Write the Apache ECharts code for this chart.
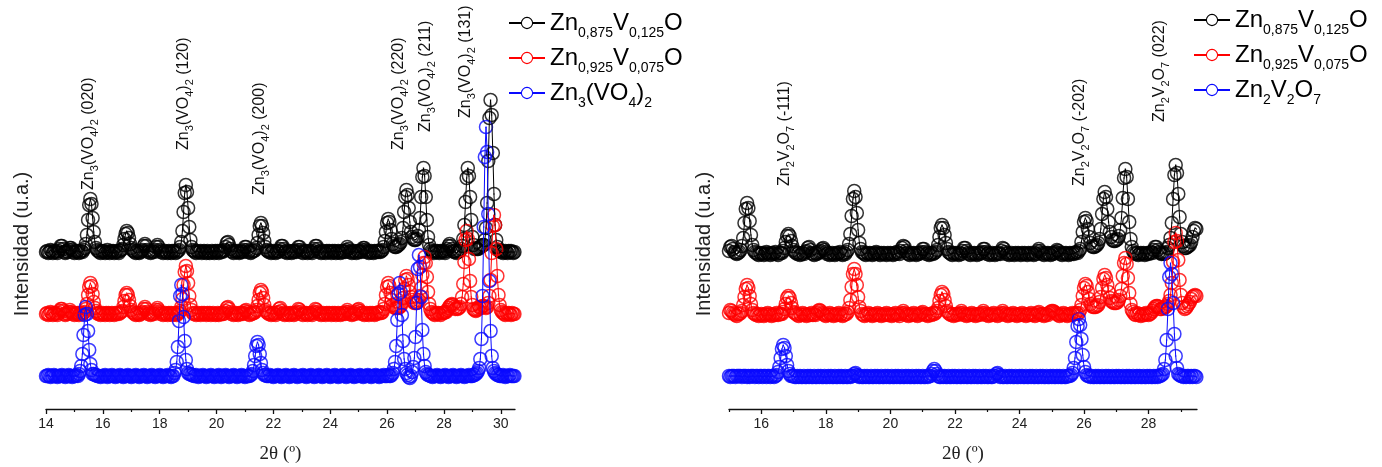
<!DOCTYPE html>
<html><head><meta charset="utf-8">
<script src="https://cdn.jsdelivr.net/npm/echarts@6/dist/echarts.min.js"></script>
<style>html,body{margin:0;padding:0;background:#fff}#c{width:1382px;height:467px}</style>
</head><body><div id="c"></div>
<script>
// ---------- names ----------
const NAME_A = 'Zn0,875V0,125O';
const NAME_B = 'Zn0,925V0,075O';
const NAME_L = 'Zn3(VO4)2';
const NAME_R = 'Zn2V2O7';

// ---------- tick labels ----------
const leftTicks = [14,16,18,20,22,24,26,28,30];
const leftMinor = [15,17,19,21,23,25,27,29];
const rightTicks = [16,18,20,22,24,26,28];
const rightMinor = [15,17,19,21,23,25,27,29];

// ---------- sampling of the scans (2θ start, step in degrees) ----------
const leftStart = 14.0, rightStart = 15.0, scanStep = 0.04;

// ---------- left panel intensities (offset, u.a.), one value per 0.04° from 14.00 ----------
const leftBlack = [
157,158,156,157,159,158,156,157,158,157,156,158,160,163,163,160,157,156,158,157,159,161,161,159,157,
156,158,157,158,156,157,158,157,159,161,165,174,189,204,210,205,191,177,167,161,159,158,157,156,158,
157,158,156,157,159,157,156,158,157,158,156,157,158,157,156,158,159,160,164,170,175,178,176,171,165,
161,159,158,157,156,158,157,156,157,158,159,163,165,163,159,157,158,156,157,158,157,159,162,164,162,
159,157,158,156,157,158,157,156,158,157,156,158,157,158,156,157,158,159,162,167,178,197,216,224,217,
201,182,169,162,159,158,157,156,158,157,157,158,156,157,158,157,156,158,157,156,157,158,157,156,158,
157,158,156,157,158,157,158,159,162,166,167,164,160,158,157,156,158,157,158,157,156,157,158,157,159,
162,162,159,157,158,156,157,158,158,159,161,166,174,183,186,183,176,168,162,159,158,157,158,156,157,
158,157,156,158,157,158,160,163,163,160,157,158,156,157,158,157,156,158,157,158,157,159,162,162,159,
157,156,158,157,158,156,157,158,157,156,158,160,163,163,160,157,158,156,157,158,157,156,158,157,158,
157,156,158,157,158,156,157,158,157,156,158,157,158,157,159,162,160,157,158,156,157,158,157,156,158,
157,158,157,159,161,161,159,157,158,156,157,158,157,156,158,157,158,157,158,157,158,159,162,168,177,
186,190,187,179,170,165,163,162,162,163,164,165,167,171,181,197,212,219,214,201,187,177,172,170,169,
169,170,173,179,191,212,232,241,233,212,189,172,164,160,158,157,156,158,157,158,157,156,158,157,158,
157,156,158,160,163,165,163,160,158,157,158,156,157,158,158,160,163,170,184,207,231,241,233,212,189,
172,164,160,161,160,160,161,162,163,164,164,169,181,206,248,291,309,294,256,215,184,169,162,159,158,
157,158,156,157,158,157,156,158,157,158,157,156,157];

const leftRed = [
95,96,94,95,97,96,94,95,96,95,94,96,98,100,100,98,95,94,96,95,97,99,97,96,95,
94,96,95,96,94,95,96,95,96,97,100,105,114,122,126,123,115,107,101,98,96,95,96,94,95,
96,95,94,96,95,96,94,95,96,95,94,96,95,96,95,96,97,98,102,108,114,116,114,109,103,
99,97,96,95,94,96,95,94,95,96,97,100,102,100,97,95,96,94,95,96,95,97,99,101,99,
97,95,96,94,95,96,95,94,96,95,96,94,95,96,95,94,96,96,98,102,110,124,137,143,138,
126,113,104,99,96,95,96,94,95,96,95,94,96,95,96,95,94,96,95,96,94,95,96,95,94,
95,96,94,95,96,95,95,96,98,101,102,100,97,95,96,94,95,96,95,94,96,95,96,95,96,
98,99,97,95,94,96,95,96,96,97,99,103,109,116,119,117,111,104,99,97,96,95,96,94,95,
96,95,94,96,97,100,101,98,95,96,94,95,96,95,94,96,95,96,94,95,96,97,100,99,97,
95,94,96,95,96,94,95,96,95,94,96,97,100,99,97,95,96,94,95,96,95,94,96,95,96,
95,94,96,95,96,94,95,96,95,94,96,95,96,95,97,99,97,95,96,94,95,96,95,97,99,
100,98,96,95,96,94,95,96,95,94,96,95,96,95,94,96,95,96,97,96,96,97,100,105,114,
122,126,123,116,109,104,102,101,101,101,101,102,103,106,111,120,129,133,130,124,117,112,109,107,106,
106,106,107,109,113,121,134,146,152,146,132,117,105,100,97,96,95,94,96,95,96,95,94,96,96,
96,97,97,99,101,103,104,105,104,102,100,101,100,101,102,105,112,125,147,169,178,170,150,128,112,
104,100,99,98,99,100,102,101,102,103,103,102,101,102,106,113,129,156,183,194,184,160,133,114,104,
99,97,96,95,94,96,95,96,95,94,96,95,95];

const leftBlue = [
33,33,34,33,32,33,33,34,33,33,32,33,33,33,34,33,33,32,33,33,34,33,33,32,33,
33,33,34,33,35,38,43,55,74,94,102,95,78,59,45,39,35,35,34,34,33,33,33,32,33,
33,33,34,33,32,33,33,33,34,33,33,32,33,33,33,34,33,33,32,33,33,33,34,33,33,
32,33,33,33,34,33,33,32,33,33,33,34,33,33,32,33,33,33,34,33,33,32,33,33,33,
34,33,33,32,33,33,33,34,33,33,32,33,33,36,39,47,62,88,113,124,115,92,68,49,40,
36,35,35,34,34,33,33,34,33,32,33,33,33,34,33,33,32,33,33,33,34,33,33,32,33,
33,33,34,33,32,33,33,33,34,33,33,32,33,33,33,34,33,33,32,33,33,33,34,33,33,
32,33,33,33,33,34,35,38,44,53,63,67,64,55,46,39,36,34,34,33,33,33,34,33,33,
32,33,33,33,34,33,33,32,33,33,33,34,33,33,32,33,33,33,34,33,33,32,33,33,33,
33,34,33,33,32,33,33,33,34,33,33,32,33,33,33,34,33,33,32,33,33,33,34,33,33,
32,33,33,33,34,33,33,32,33,33,33,34,33,33,32,33,33,33,34,33,33,32,33,33,33,
33,34,33,33,32,33,33,33,34,33,33,32,33,33,33,34,33,33,32,33,33,33,34,33,33,
33,34,33,33,34,36,40,47,63,89,115,126,117,94,68,50,40,36,34,32,31,33,37,42,51,
72,106,140,154,142,112,79,55,43,37,35,34,34,33,33,32,33,33,33,34,33,33,32,33,33,
33,34,33,33,32,33,33,33,34,33,33,32,33,33,33,34,33,33,32,33,33,33,34,33,33,
33,34,34,35,36,38,41,50,70,113,182,252,282,257,195,128,78,53,41,38,36,35,34,34,33,
33,33,34,33,32,33,33,33,34,33,33,33,33];

// ---------- right panel intensities, one value per 0.04° from 15.00 ----------
const rightBlack = [
158,162,163,160,157,156,155,156,157,159,163,171,186,200,206,201,188,174,164,159,157,156,155,154,156,
155,156,154,155,157,156,155,154,156,155,156,157,155,154,156,156,156,158,161,167,173,175,173,168,163,
159,157,156,155,156,154,155,156,155,157,158,161,162,159,156,155,154,156,155,156,157,158,160,161,159,
157,155,156,154,155,156,155,154,156,155,156,157,155,154,156,155,157,159,165,175,193,210,218,212,196,
179,166,160,157,156,155,154,156,155,156,155,154,156,155,157,156,155,154,156,155,156,155,154,156,155,
156,155,154,156,155,157,156,155,158,161,163,162,158,156,155,154,156,155,156,155,154,156,155,156,157,
160,160,157,155,156,154,155,156,155,156,157,159,164,172,181,184,181,174,166,160,157,156,155,154,156,
155,156,155,154,156,155,158,161,161,158,156,155,154,156,155,156,155,154,156,155,156,157,160,160,157,
155,156,154,155,156,155,154,156,155,156,155,158,161,160,157,155,156,154,155,156,155,154,156,155,156,
155,154,156,155,156,155,154,156,155,156,155,154,156,155,158,160,158,156,155,154,156,155,156,155,154,
156,155,156,157,159,158,156,155,154,156,155,156,155,154,156,155,156,155,156,157,156,158,160,167,177,
187,191,188,180,172,166,163,162,162,163,164,166,170,180,195,210,217,212,200,187,177,172,169,168,168,
169,170,173,179,191,211,231,240,232,210,187,170,162,158,156,155,156,154,155,156,155,156,154,155,156,
155,156,157,156,159,162,162,159,157,156,155,156,155,156,157,161,164,171,186,210,234,244,236,215,192,
175,167,163,161,161,162,163,164,167,172,178,181,180];

const rightRed = [
96,99,98,96,95,94,93,95,95,96,98,104,112,120,124,121,113,105,99,96,95,94,95,93,94,
95,94,93,95,94,96,94,95,93,94,95,94,96,94,95,95,95,97,100,105,111,113,111,106,101,
97,96,95,94,93,95,94,96,94,95,93,94,95,94,96,94,95,94,96,98,99,98,96,95,94,
93,95,94,96,94,95,93,94,95,94,96,94,95,93,94,95,95,97,101,109,122,135,140,135,124,
112,102,98,95,94,93,95,94,96,94,95,93,94,95,94,96,94,95,93,94,95,94,96,94,95,
94,93,95,94,96,94,95,93,95,96,98,96,94,95,93,94,95,94,96,94,95,93,94,95,96,
97,95,94,95,93,94,95,94,96,95,96,98,101,108,114,117,115,109,103,98,96,95,94,95,93,
94,95,94,95,96,98,96,94,95,93,94,95,94,96,94,95,93,94,95,94,95,96,98,96,94,
95,93,94,95,94,96,94,95,93,94,95,96,98,96,94,95,93,94,95,94,96,94,95,93,94,
95,94,96,94,95,93,94,95,94,96,94,95,93,94,96,97,95,94,95,93,94,95,94,96,97,
98,98,97,96,95,94,93,95,94,96,94,95,93,94,95,94,96,95,95,96,95,96,99,104,113,
121,125,123,117,110,105,103,102,102,102,103,104,107,112,121,130,134,131,124,117,111,108,107,106,106,
106,107,109,113,120,133,146,151,145,131,116,105,99,97,95,94,96,94,95,93,94,95,94,96,95,
94,95,96,98,100,102,103,103,102,100,100,101,101,102,103,105,108,114,126,147,167,176,168,149,129,
114,106,102,100,101,103,105,107,110,112,113,114,113];

const rightBlue = [
33,32,33,33,33,32,33,33,33,33,32,33,33,33,32,33,32,33,33,33,32,33,33,32,33,
33,32,33,33,32,33,33,32,33,33,32,33,34,37,42,51,60,64,61,53,44,38,35,33,33,
33,32,32,33,32,33,32,32,33,32,32,33,32,33,32,32,33,32,32,33,32,33,32,32,33,
32,32,33,32,33,32,32,33,32,32,33,32,33,32,32,33,32,32,33,32,33,33,35,36,34,
33,32,33,32,32,33,32,33,32,32,33,32,32,33,32,33,32,32,33,32,32,33,32,33,32,
32,33,32,32,33,32,33,32,32,33,32,32,33,32,33,32,32,33,32,32,33,32,33,32,32,
33,32,32,33,32,33,33,35,38,40,38,35,33,32,32,33,32,33,32,32,33,32,32,33,32,
33,32,32,33,32,32,33,32,33,32,32,33,32,32,33,32,33,32,32,33,32,32,33,32,33,
32,32,33,32,32,33,33,35,36,34,32,33,32,32,33,32,32,33,32,33,32,32,33,32,32,
33,32,33,32,32,33,32,32,33,32,33,32,32,33,32,32,33,32,33,32,32,33,32,32,33,
32,33,32,32,33,32,33,32,32,33,32,32,33,33,33,34,36,41,51,67,83,90,84,70,54,
42,37,34,33,33,32,33,32,32,33,32,33,32,32,33,32,32,33,32,33,32,32,33,32,32,
33,32,33,32,32,33,32,32,33,32,33,32,32,33,32,32,33,32,33,32,32,33,32,32,33,
32,33,32,32,33,32,33,32,33,33,34,35,40,49,69,100,132,146,135,106,75,53,41,35,34,
33,33,32,33,32,33,33,32,33,32,33,33,32];

// ---------- peak annotations (2θ position, label) ----------
const leftPeakTheta = [15.49, 18.83, 21.5, 26.39, 27.34, 28.76];
const leftPeakLabel = ['(020)','(120)','(200)','(220)','(211)','(131)'];
const rightPeakTheta = [16.73, 25.87, 28.35];
const rightPeakLabel = ['(-111)','(-202)','(022)'];
// layout only: lower end (pixel y) of each rotated annotation
const leftAnnotY = [190, 150, 195, 150, 132, 118];
const rightAnnotY = [186, 186, 122];

// ---------- build [2θ, I] pairs from the sampled scans ----------
function pairs(start, ys) { return ys.map(function (y, i) { return [+(start + scanStep * i).toFixed(2), y]; }); }

// ---------- styling ----------
const C_BLACK = '#000000', C_RED = '#ff0000', C_BLUE = '#0a0aff';
const SANS = '"Liberation Sans", Arial, sans-serif';
const SERIF = '"Liberation Serif", "Times New Roman", serif';

const richLegend = {
  a: {fontSize: 24, fontFamily: SANS, color: '#000', lineHeight: 28},
  s: {fontSize: 14, fontFamily: SANS, color: '#000', lineHeight: 14, padding: [20,0,0,0]}
};
const legendRich = {};
legendRich[NAME_A] = '{a|Zn}{s|0,875}{a|V}{s|0,125}{a|O}';
legendRich[NAME_B] = '{a|Zn}{s|0,925}{a|V}{s|0,075}{a|O}';
legendRich[NAME_L] = '{a|Zn}{s|3}{a|(VO}{s|4}{a|)}{s|2}';
legendRich[NAME_R] = '{a|Zn}{s|2}{a|V}{s|2}{a|O}{s|7}';

// connecting line (also provides the legend entry)
function lineSeries(name, data, color, xi, yi) {
  return {type: 'line', name: name, data: data, xAxisIndex: xi, yAxisIndex: yi,
    symbol: 'circle', symbolSize: 13, showSymbol: false,
    lineStyle: {color: color, width: 1},
    itemStyle: {color: 'rgba(255,255,255,0)', borderColor: color, borderWidth: 1.1},
    emphasis: {disabled: true}, animation: false, clip: true};
}
// one open circle per measured point
function circleSeries(data, color, xi, yi) {
  return {type: 'scatter', name: '_circ', data: data, xAxisIndex: xi, yAxisIndex: yi,
    symbol: 'circle', symbolSize: 13, large: false, progressive: 0,
    itemStyle: {color: 'rgba(255,255,255,0)', borderColor: color, borderWidth: 1.5},
    silent: true, animation: false, clip: true};
}
function dotSeries(data, color, xi, yi) {
  return {type: 'scatter', name: '_dot', data: data, xAxisIndex: xi, yAxisIndex: yi,
    symbol: 'circle', symbolSize: 1.6, large: false, progressive: 0,
    itemStyle: {color: color}, silent: true, animation: false};
}
function mainX(grid, min, max, ticks) {
  return {type: 'value', gridIndex: grid, min: min, max: max, position: 'bottom',
    axisLine: {show: true, onZero: false, lineStyle: {color: '#111', width: 1.3}},
    axisTick: {show: true, customValues: ticks, length: 5, lineStyle: {color: '#111', width: 1.3}},
    axisLabel: {show: true, customValues: ticks, fontSize: 14, fontFamily: SANS, color: '#222', margin: 8},
    splitLine: {show: false},
    name: '2θ (º)', nameLocation: 'middle', nameGap: 36,
    nameTextStyle: {fontFamily: SERIF, fontSize: 19, color: '#222'}};
}
function minorX(grid, min, max, ticks) {
  return {type: 'value', gridIndex: grid, min: min, max: max, position: 'bottom',
    axisLine: {show: false, onZero: false},
    axisTick: {show: true, customValues: ticks, length: 3, lineStyle: {color: '#111', width: 1.2}},
    axisLabel: {show: false}, splitLine: {show: false}};
}
function yAx(grid, gap) {
  return {type: 'value', gridIndex: grid, min: 0, max: 330,
    axisLine: {show: false}, axisTick: {show: false}, axisLabel: {show: false}, splitLine: {show: false},
    name: 'Intensidad (u.a.)', nameLocation: 'middle', nameGap: gap,
    nameTextStyle: {fontFamily: SANS, fontSize: 20, color: '#222'}};
}
function legendOf(left, top, names) {
  return {orient: 'vertical', left: left, top: top, data: names, itemWidth: 36, itemHeight: 14, itemGap: 1,
    selectedMode: false, formatter: function (n) { return legendRich[n]; },
    itemStyle: {color: '#ffffff', borderWidth: 1.1},
    textStyle: {rich: richLegend}};
}

const chart = echarts.init(document.getElementById('c'), null, {renderer: 'canvas'});
const LB = pairs(leftStart, leftBlack), LR = pairs(leftStart, leftRed), LU = pairs(leftStart, leftBlue);
const RB = pairs(rightStart, rightBlack), RR = pairs(rightStart, rightRed), RU = pairs(rightStart, rightBlue);
function trio(name, d, c, xi, yi) { return [lineSeries(name, d, c, xi, yi), circleSeries(d, c, xi, yi), dotSeries(d, c, xi, yi)]; }
const option = {
  backgroundColor: '#ffffff',
  animation: false,
  grid: [
    {left: 46, top: 79, width: 469, height: 330, outerBoundsMode: 'none', containLabel: false},
    {left: 729, top: 79, width: 468, height: 330, outerBoundsMode: 'none', containLabel: false}
  ],
  xAxis: [mainX(0, 14, 30.5, leftTicks), minorX(0, 14, 30.5, leftMinor),
          mainX(1, 15, 29.5, rightTicks), minorX(1, 15, 29.5, rightMinor)],
  yAxis: [yAx(0, 14), yAx(1, 15)],
  legend: [legendOf(503, 1, [NAME_A, NAME_B, NAME_L]), legendOf(1188, -2, [NAME_A, NAME_B, NAME_R])],
  series: [].concat(
    trio(NAME_A, LB, C_BLACK, 0, 0), trio(NAME_B, LR, C_RED, 0, 0), trio(NAME_L, LU, C_BLUE, 0, 0),
    trio(NAME_A, RB, C_BLACK, 2, 1), trio(NAME_B, RR, C_RED, 2, 1), trio(NAME_R, RU, C_BLUE, 2, 1))
};
chart.setOption(option);

// rotated peak annotations, placed through the x axes
const richAnn = {
  a: {fontSize: 16, fontFamily: SANS, fill: '#111', color: '#111', lineHeight: 18},
  s: {fontSize: 11, fontFamily: SANS, fill: '#111', color: '#111', lineHeight: 11, padding: [13,0,0,0]}
};
const g = [];
leftPeakTheta.forEach(function (t, i) {
  const px = chart.convertToPixel({xAxisIndex: 0}, t);
  g.push({type: 'text', x: px, y: leftAnnotY[i], rotation: Math.PI / 2, silent: true,
    style: {text: '{a|Zn}{s|3}{a|(VO}{s|4}{a|)}{s|2}{a| ' + leftPeakLabel[i] + '}', rich: richAnn,
      align: 'left', verticalAlign: 'middle', textAlign: 'left', textVerticalAlign: 'middle'}});
});
rightPeakTheta.forEach(function (t, i) {
  const px = chart.convertToPixel({xAxisIndex: 2}, t);
  g.push({type: 'text', x: px, y: rightAnnotY[i], rotation: Math.PI / 2, silent: true,
    style: {text: '{a|Zn}{s|2}{a|V}{s|2}{a|O}{s|7}{a| ' + rightPeakLabel[i] + '}', rich: richAnn,
      align: 'left', verticalAlign: 'middle', textAlign: 'left', textVerticalAlign: 'middle'}});
});
chart.setOption({graphic: g});
</script>
</body></html>
